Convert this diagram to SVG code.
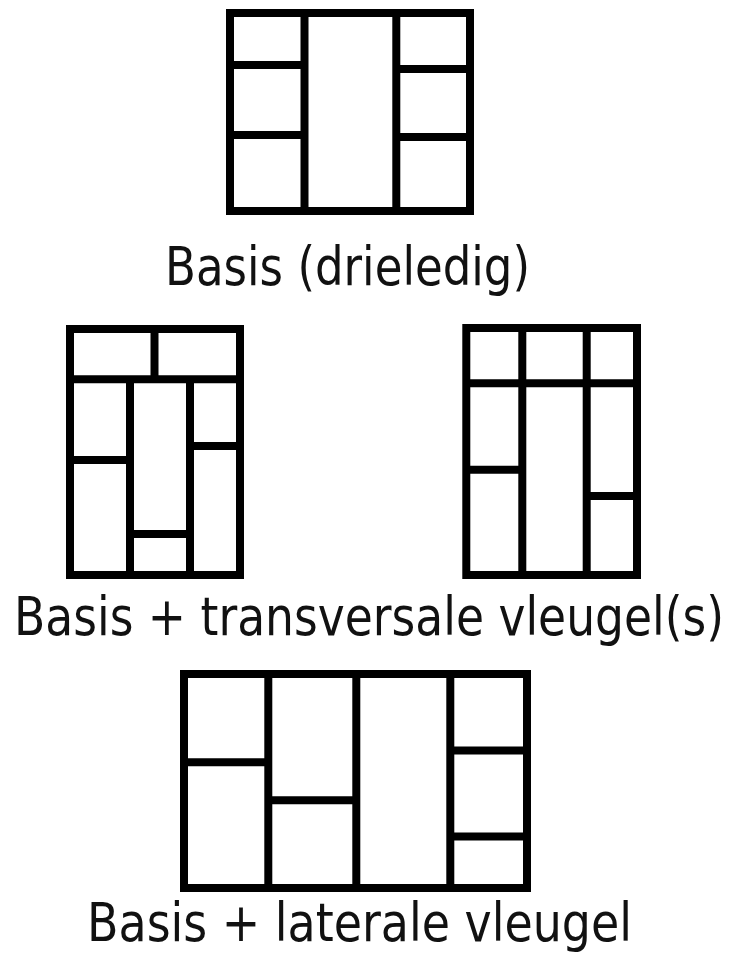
<svg xmlns="http://www.w3.org/2000/svg" width="738" height="954" viewBox="0 0 738 954">
  <style>
    .frame { fill: none; stroke: #000; stroke-width: 8; }
    .wall { stroke: #000; stroke-width: 8; }
    .label { font-family: "DejaVu Sans", "Liberation Sans", sans-serif; font-size: 54px; fill: #111; }
  </style>
  <rect width="738" height="954" fill="#fff"/>

  <!-- basic three-part plan -->
  <g id="plan-basis">
    <rect class="frame" x="230" y="13" width="240" height="198"/>
    <line class="wall" x1="304.5" y1="13" x2="304.5" y2="211"/>
    <line class="wall" x1="396.3" y1="13" x2="396.3" y2="211"/>
    <line class="wall" x1="230" y1="65" x2="304.5" y2="65"/>
    <line class="wall" x1="230" y1="135" x2="304.5" y2="135"/>
    <line class="wall" x1="396.3" y1="69" x2="470" y2="69"/>
    <line class="wall" x1="396.3" y1="137" x2="470" y2="137"/>
  </g>
  <text id="label-basis" class="label" x="165" y="285" textLength="365" lengthAdjust="spacingAndGlyphs">Basis (drieledig)</text>

  <!-- plan with transverse wing, variant A -->
  <g id="plan-transversaal-a">
    <rect class="frame" x="70" y="329" width="170" height="246"/>
    <line class="wall" x1="70" y1="379.3" x2="240" y2="379.3"/>
    <line class="wall" x1="154.5" y1="329" x2="154.5" y2="379.3"/>
    <line class="wall" x1="130" y1="379.3" x2="130" y2="575"/>
    <line class="wall" x1="190" y1="379.3" x2="190" y2="575"/>
    <line class="wall" x1="70" y1="460" x2="130" y2="460"/>
    <line class="wall" x1="130" y1="534" x2="190" y2="534"/>
    <line class="wall" x1="190" y1="446" x2="240" y2="446"/>
  </g>

  <!-- plan with transverse wing, variant B -->
  <g id="plan-transversaal-b">
    <rect class="frame" x="466.3" y="328" width="170.7" height="247"/>
    <line class="wall" x1="466.3" y1="383.3" x2="637" y2="383.3"/>
    <line class="wall" x1="522.3" y1="328" x2="522.3" y2="575"/>
    <line class="wall" x1="586.7" y1="328" x2="586.7" y2="575"/>
    <line class="wall" x1="466.3" y1="469.7" x2="522.3" y2="469.7"/>
    <line class="wall" x1="586.7" y1="496" x2="637" y2="496"/>
  </g>
  <text id="label-transversaal" class="label" x="14" y="635" textLength="710" lengthAdjust="spacingAndGlyphs">Basis + transversale vleugel(s)</text>

  <!-- plan with lateral wing -->
  <g id="plan-lateraal">
    <rect class="frame" x="184" y="674" width="343" height="214"/>
    <line class="wall" x1="268.3" y1="674" x2="268.3" y2="888"/>
    <line class="wall" x1="356.3" y1="674" x2="356.3" y2="888"/>
    <line class="wall" x1="450.3" y1="674" x2="450.3" y2="888"/>
    <line class="wall" x1="184" y1="762.3" x2="268.3" y2="762.3"/>
    <line class="wall" x1="268.3" y1="800.3" x2="356.3" y2="800.3"/>
    <line class="wall" x1="450.3" y1="750.5" x2="527" y2="750.5"/>
    <line class="wall" x1="450.3" y1="836.5" x2="527" y2="836.5"/>
  </g>
  <text id="label-lateraal" class="label" x="87" y="941" textLength="545" lengthAdjust="spacingAndGlyphs">Basis + laterale vleugel</text>

  <g id="connectors"/>
</svg>
